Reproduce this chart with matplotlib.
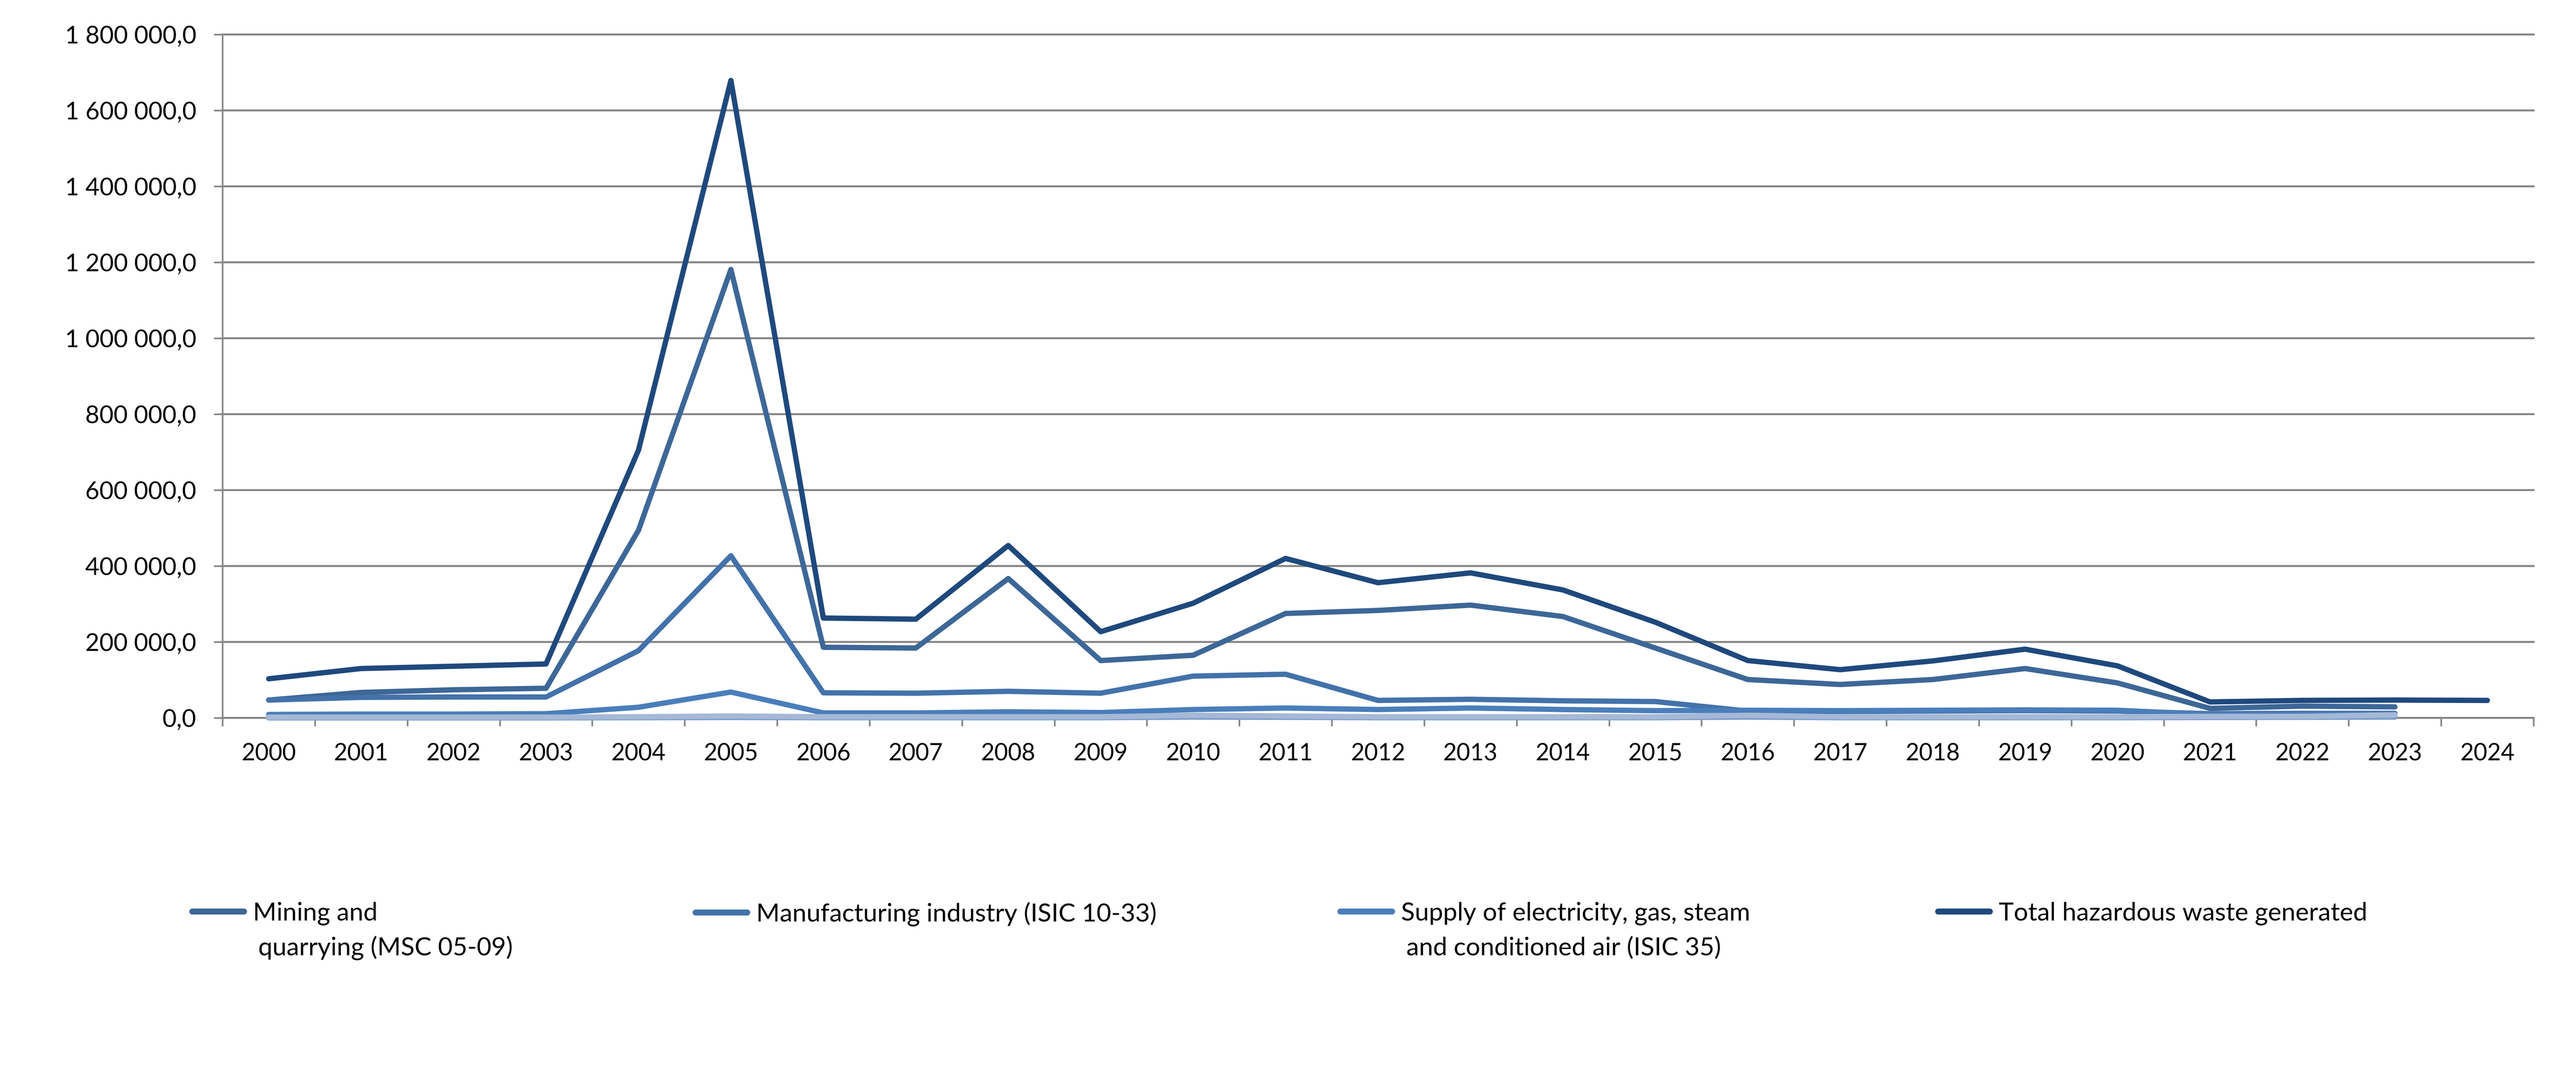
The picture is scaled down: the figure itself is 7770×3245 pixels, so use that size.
import numpy as np
import matplotlib
matplotlib.use("Agg")
import matplotlib.pyplot as plt
from matplotlib.ticker import FuncFormatter

# hazardous waste generated, tonnes
years = [str(y) for y in range(2000, 2025)]
mining = [47, 67, 74, 78, 494, 1181, 186, 184, 367, 151, 165, 275, 283, 297,
          267, 184, 101, 88, 101, 130, 92, 25, 31, 29, None]
manufacturing = [47, 54, 55, 55, 177, 427, 66, 65, 70, 65, 110, 115, 46, 49,
                 45, 43, 18, 17, 18, 19, 18, 11, 12, 12, None]
supply = [9, 10, 10, 11, 28, 68, 13, 13, 16, 14, 22, 26, 22, 26,
          22, 19, 20, 19, 20, 21, 20, 9, 9, 10, None]
total = [103, 130, 136, 142, 705, 1679, 263, 260, 454, 227, 302, 420, 356, 382,
         337, 252, 151, 127, 150, 181, 137, 42, 46, 47, 46]
# two more series without legend entries, both close to zero
other_a = [0, 0, 0, 0, 0.5, 1, 0.5, 0.5, 0.5, 0.5, 2, 1.5, 0.5, 0.5,
           0.5, 0.5, 2, 0.5, 0.5, 0.5, 0.5, 1, 1.5, 2, None]
other_b = [2, 2, 2, 2, 3, 5, 3, 3, 3, 3, 7, 5, 3, 3,
           3, 3, 7, 3, 3, 3, 3, 4, 4, 8, None]

yticks = [0, 200000, 400000, 600000, 800000, 1000000, 1200000, 1400000, 1600000, 1800000]

W, H = 7770, 3245
GRID = '#878787'
FS_X = 51
FS_Y = 53
FS_LEG = 55

plt.rcParams['font.family'] = ['Lato', 'DejaVu Sans']


def to_tonnes(vals):
    return np.array([np.nan if v is None else v * 1000 for v in vals], dtype=float)


def fmt(v, pos):
    return f"{v:,.1f}".replace(",", " ").replace(".", ",")


fig = plt.figure(figsize=(W / 100, H / 100), dpi=100)
ax = fig.add_axes([671 / W, 1 - 2165 / H, (7642 - 671) / W, (2165 - 104) / H])

x = np.arange(len(years)) + 0.5
series = [
    (mining, '#3D6797'),
    (manufacturing, '#4372AA'),
    (supply, '#4A7EBB'),
    (total, '#1F497D'),
    (other_a, '#7F9FD0'),
    (other_b, '#A6B8D5'),
]
lines = []
for vals, col in series:
    ln, = ax.plot(x, to_tonnes(vals), color=col, lw=11.5, zorder=3,
                  solid_capstyle='round', solid_joinstyle='round', clip_on=False)
    lines.append(ln)

ax.set_xlim(0, len(years))
ax.set_ylim(0, 1800000)

for s in ['top', 'right']:
    ax.spines[s].set_visible(False)
for s in ['left', 'bottom']:
    ax.spines[s].set_color(GRID)
    ax.spines[s].set_linewidth(3.6)

ax.set_yticks(yticks)
ax.yaxis.set_major_formatter(FuncFormatter(fmt))
ax.yaxis.grid(True, color=GRID, lw=4.3)
ax.set_axisbelow(True)
for gl in ax.get_ygridlines():
    gl.set_clip_on(False)
ax.tick_params(axis='y', length=18.7, width=3.6, color=GRID, pad=38,
               labelsize=FS_Y, labelcolor='black')

ax.set_xticks(x)
ax.set_xticklabels(years)
ax.set_xticks(np.arange(len(years) + 1), minor=True)
ax.tick_params(axis='x', which='major', length=0, pad=54, labelsize=FS_X)
ax.tick_params(axis='x', which='minor', length=18, width=3.6, color=GRID,
               direction='out')

# legend: one small legend per entry so the columns sit where the original has them
entries = [
    (lines[0], "Mining and", "quarrying (MSC 05-09)", 580),
    (lines[1], "Manufacturing industry (ISIC 10-33)", None, 2098),
    (lines[2], "Supply of electricity, gas, steam", "and conditioned air (ISIC 35)", 4043),
    (lines[3], "Total hazardous waste generated", None, 5846),
]
legs = []
for ln, first, second, xpix in entries:
    leg = fig.legend([ln], [first], loc='upper left',
                     bbox_to_anchor=(xpix / W, 1 - 2720 / H),
                     frameon=False, borderpad=0, borderaxespad=0,
                     handlelength=2.04, handletextpad=0.35, fontsize=FS_LEG)
    leg.get_lines()[0].set_linewidth(13)
    legs.append((leg, second))

for leg, second in legs:
    if second:
        ax.annotate(second, xy=(0, 0), xycoords=leg.get_texts()[0],
                    xytext=(16, -90), textcoords='offset pixels',
                    va='baseline', ha='left', fontsize=FS_LEG, annotation_clip=False)

fig.canvas.draw()
fig.savefig('out.png', dpi=100)
